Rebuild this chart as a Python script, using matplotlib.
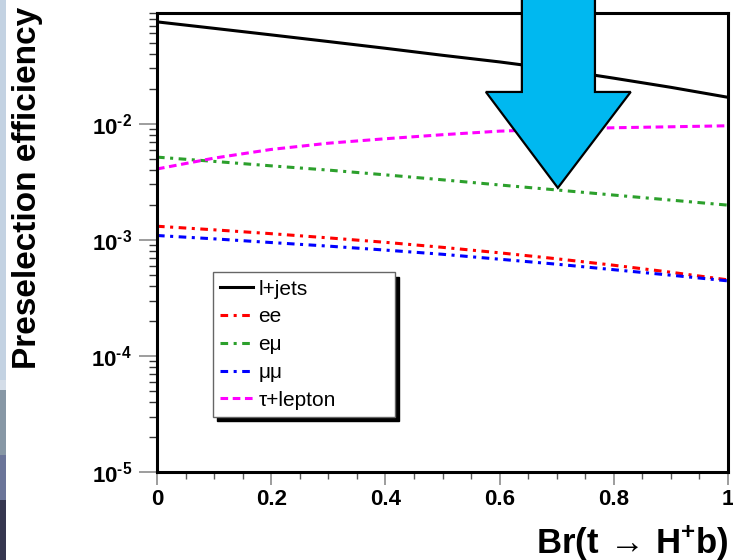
import numpy as np
import matplotlib
matplotlib.use('Agg')
import matplotlib.pyplot as plt
from matplotlib.patches import Polygon, Rectangle
from matplotlib.ticker import FixedLocator, MultipleLocator, LogLocator, NullFormatter

plt.rcParams['font.family'] = ['Liberation Sans', 'DejaVu Sans']
plt.rcParams['font.weight'] = 'bold'
plt.rcParams['mathtext.fontset'] = 'custom'
plt.rcParams['mathtext.rm'] = 'Liberation Sans:bold'
plt.rcParams['mathtext.it'] = 'Liberation Sans:bold'
plt.rcParams['mathtext.bf'] = 'Liberation Sans:bold'

# Br(t -> H+ b)
br = [0.0, 0.1, 0.2, 0.3, 0.4, 0.5, 0.6, 0.7, 0.8, 0.9, 1.0]
eff_ljets = [0.0755, 0.0664, 0.0583, 0.0511, 0.0447, 0.0389, 0.0341, 0.0294, 0.0247, 0.0206, 0.0169]
eff_ee = [0.00131, 0.00122, 0.00113, 0.00104, 0.000952, 0.000862, 0.000773, 0.000687, 0.000604, 0.000526, 0.000452]
eff_emu = [0.00516, 0.00474, 0.00434, 0.00399, 0.00363, 0.00329, 0.00297, 0.00269, 0.00243, 0.00220, 0.00199]
eff_mumu = [0.00109, 0.00102, 0.000948, 0.000883, 0.000816, 0.000751, 0.000681, 0.000617, 0.000553, 0.000496, 0.000443]
eff_taulep = [0.00408, 0.00506, 0.00601, 0.00680, 0.00743, 0.00805, 0.00864, 0.00897, 0.00924, 0.00942, 0.00961]

fig = plt.figure(figsize=(7.33, 5.6), dpi=100)
ax = fig.add_axes([157/733, 88/560, 571/733, 459/560])

# thin slide background strip on the left edge
strip = [(0, 380, '#c3d2e2'), (380, 390, '#d4dde8'), (390, 455, '#8797a5'),
         (455, 500, '#6b7599'), (500, 560, '#35364f')]
for y0, y1, c in strip:
    fig.patches.append(Rectangle((0, 1 - y1/560), 6/733, (y1 - y0)/560,
                                 transform=fig.transFigure, color=c, lw=0))

ax.plot(br, eff_ljets, color='black', lw=2.2, label='l+jets')
ax.plot(br, eff_ee, color='#ff0000', lw=2.2, dashes=(2.5, 1.8, 1, 1.8), label='ee')
ax.plot(br, eff_emu, color='#2ca02c', lw=2.2, dashes=(2.5, 1.8, 1, 1.8), label='e\u03bc')
ax.plot(br, eff_mumu, color='#0000ff', lw=2.2, dashes=(2.5, 1.8, 1, 1.8), label='\u03bc\u03bc')
ax.plot(br, eff_taulep, color='#ff00ff', lw=2.2, dashes=(2.5, 1.5), label='\u03c4+lepton')

ax.set_yscale('log')
ax.set_xlim(0, 1)
ax.set_ylim(1e-5, 0.09)

ax.xaxis.set_major_locator(FixedLocator([0, 0.2, 0.4, 0.6, 0.8, 1.0]))
ax.xaxis.set_minor_locator(MultipleLocator(0.05))
ax.set_xticklabels(['0', '0.2', '0.4', '0.6', '0.8', '1'])
ax.yaxis.set_major_locator(FixedLocator([1e-5, 1e-4, 1e-3, 1e-2]))
ax.yaxis.set_minor_locator(LogLocator(base=10, subs=np.arange(2, 10)))
ax.yaxis.set_minor_formatter(NullFormatter())
ax.set_yticklabels([r'$10^{\text{-5}}$', r'$10^{\text{-4}}$',
                    r'$10^{\text{-3}}$', r'$10^{\text{-2}}$'])

ax.tick_params(axis='both', which='major', direction='out', color='0.55',
               width=1.2, labelsize=16)
ax.tick_params(axis='x', which='major', length=9, pad=3)
ax.tick_params(axis='x', which='minor', direction='out', length=5, width=1, color='0.35')
ax.tick_params(axis='y', which='major', length=13, pad=5)
ax.tick_params(axis='y', which='minor', direction='out', length=6, width=1, color='0.2')

for s in ax.spines.values():
    s.set_linewidth(2.2)

fig.text(28/733, 1 - 188/560, 'Preselection efficiency', rotation=90,
         ha='center', va='center', fontsize=24, fontweight='bold')
fig.text(729/733, 1 - 543/560, r'Br(t$\,\rightarrow\,$H$^{+}$b)',
         ha='right', va='center', fontsize=25)

leg = ax.legend(loc='lower left', bbox_to_anchor=(0.0975, 0.12, 0.3195, 0.309),
                mode='expand', borderaxespad=0,
                fontsize=15, frameon=True, fancybox=False,
                shadow={'color': 'black', 'alpha': 1, 'ox': 3, 'oy': -3},
                handlelength=1.6, handletextpad=0.25, labelspacing=0.42,
                borderpad=0.35)
leg.get_frame().set_edgecolor('0.4')
leg.get_frame().set_linewidth(1)
for t in leg.get_texts():
    t.set_fontweight('normal')

# big blue arrow pointing at Br = 0.7
arrow_xy = [(0.639, 1.05), (0.767, 1.05), (0.767, 0.828), (0.8296, 0.828),
            (0.702, 0.619), (0.576, 0.828), (0.639, 0.828)]
ax.add_patch(Polygon(arrow_xy, closed=True, transform=ax.transAxes,
                     facecolor='#00b8f0', edgecolor='black', lw=1.6,
                     clip_on=False, zorder=10))

fig.savefig('out.png', dpi=100)
